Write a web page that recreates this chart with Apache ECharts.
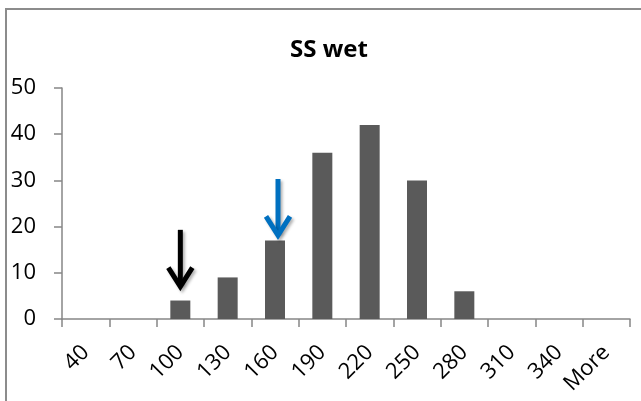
<!DOCTYPE html>
<html>
<head>
<meta charset="utf-8">
<script src="https://cdn.jsdelivr.net/npm/echarts@6/dist/echarts.min.js"></script>
<style>html,body{margin:0;padding:0;background:#fff}#c{width:641px;height:401px}</style>
</head>
<body>
<div id="c"></div>
<script>
const categories = ['40','70','100','130','160','190','220','250','280','310','340','More'];
const frequency = [0, 0, 4, 9, 17, 36, 42, 30, 6, 0, 0, 0];
const yTicks = [0, 10, 20, 30, 40, 50];
const arrowCategories = ['100', '160'];
const arrowFrom = [19.3, 30.3];
const arrowTo = [7.0, 18.1];

const arrowColors = ['#000000', '#0070C0'];
const arrowDx = [0, 3];
const FONT = 'Open Sans';
const AXIS = '#868686';

const chart = echarts.init(document.getElementById('c'), null, {renderer: 'canvas'});
chart.setOption({
  animation: false,
  backgroundColor: '#ffffff',
  title: {
    text: 'SS wet', left: 324, top: 33, textAlign: 'center',
    textStyle: {fontFamily: FONT, fontWeight: 'bold', fontSize: 24, color: '#000'}
  },
  graphic: [{
    type: 'rect', shape: {x: 6, y: 9, width: 700, height: 500},
    style: {fill: null, stroke: '#8c8c8c', lineWidth: 2}, silent: true, z: 100
  }],
  grid: {left: 62, right: 11, top: 88, bottom: 82, containLabel: false},
  xAxis: {
    type: 'category', data: categories,
    axisLine: {show: true, lineStyle: {color: AXIS, width: 1.5}},
    axisTick: {show: true, length: 8, lineStyle: {color: AXIS, width: 1.5}},
    axisLabel: {rotate: 45, margin: 30, interval: 0, fontFamily: FONT, fontSize: 22, color: '#000'},
    splitLine: {show: false}
  },
  yAxis: {
    type: 'value', min: yTicks[0], max: yTicks[yTicks.length - 1], interval: 10,
    axisLine: {show: true, lineStyle: {color: AXIS, width: 1.5}},
    axisTick: {show: true, length: 8, lineStyle: {color: AXIS, width: 1.5}},
    axisLabel: {margin: 26, fontFamily: FONT, fontSize: 22, color: '#000'},
    splitLine: {show: false}
  },
  series: [{
    type: 'bar', data: frequency, barWidth: 20,
    itemStyle: {color: '#5a5a5a'}
  }, {
    type: 'custom',
    data: arrowCategories.map((c, i) => [categories.indexOf(c), arrowFrom[i], arrowTo[i], i]),
    encode: {x: 0, y: [1, 2]},
    z: 10,
    renderItem: function (params, api) {
      const idx = api.value(3);
      const p1 = api.coord([api.value(0), api.value(1)]);
      const p2 = api.coord([api.value(0), api.value(2)]);
      const dx = arrowDx[idx];
      const x = p1[0] + dx;
      const col = arrowColors[idx];
      const shadow = {shadowBlur: 3, shadowOffsetX: 2, shadowOffsetY: 2, shadowColor: 'rgba(0,0,0,0.3)'};
      return {
        type: 'group',
        children: [{
          type: 'line',
          shape: {x1: x, y1: p1[1], x2: x, y2: p2[1] - 2},
          style: Object.assign({stroke: col, lineWidth: 5, lineCap: 'butt'}, shadow)
        }, {
          type: 'polyline',
          shape: {points: [[x - 12, p2[1] - 19], [x, p2[1]], [x + 12, p2[1] - 19]]},
          style: Object.assign({stroke: col, fill: null, lineWidth: 5, lineJoin: 'miter', lineCap: 'butt'}, shadow)
        }]
      };
    }
  }]
});
</script>
</body>
</html>
